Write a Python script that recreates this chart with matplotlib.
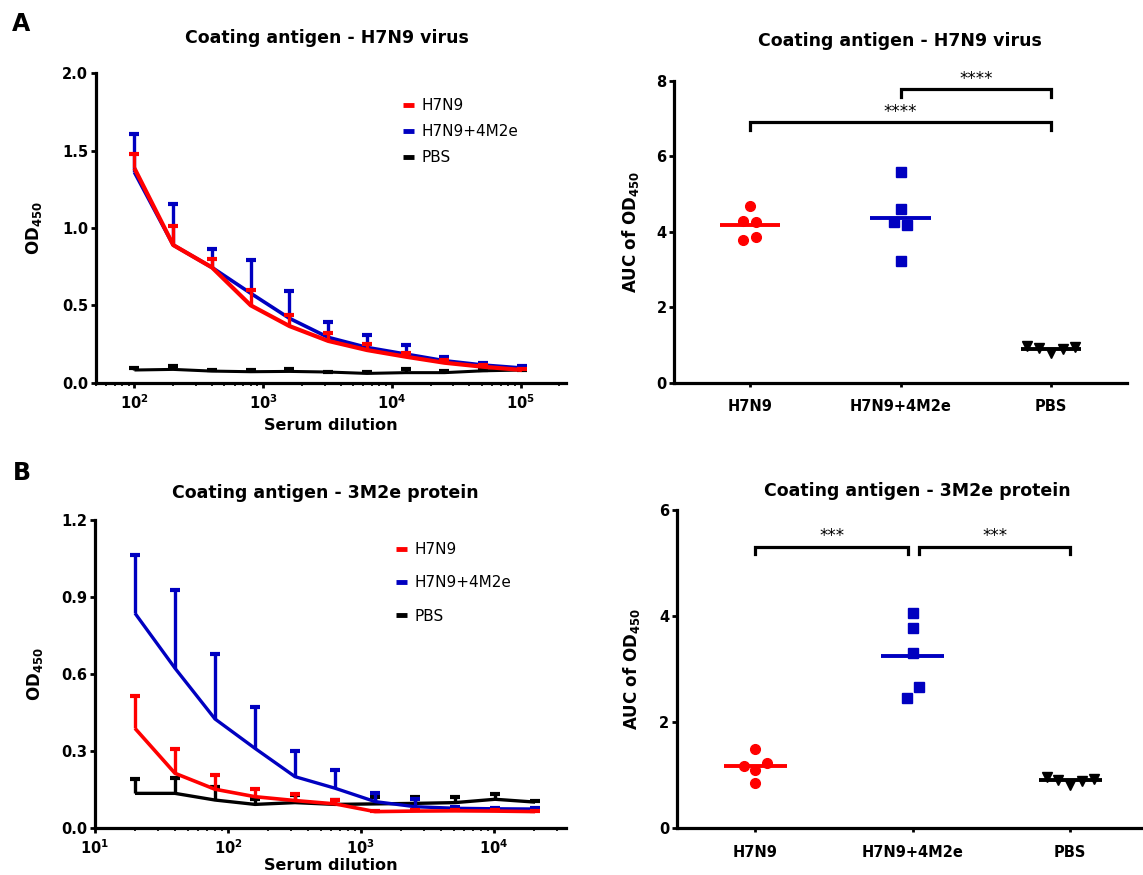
import numpy as np
import matplotlib
matplotlib.use("Agg")
import matplotlib.pyplot as plt
from matplotlib.lines import Line2D
from matplotlib.ticker import FixedLocator, FuncFormatter, LogLocator, NullFormatter

plt.rcParams['font.family'] = ['DejaVu Sans']
plt.rcParams['mathtext.fontset'] = 'dejavusans'

# ---------------- data ----------------
groups = ["H7N9", "H7N9+4M2e", "PBS"]
colors = ["#ff0000", "#0000c0", "#000000"]

# Panel A (left): coating antigen H7N9 virus
dil_virus = [100, 200, 400, 800, 1600, 3200, 6400, 12800, 25600, 51200, 102400]
a_h7n9_mean = [1.386, 0.89, 0.745, 0.50, 0.366, 0.27, 0.211, 0.168, 0.129, 0.103, 0.082]
a_h7n9_upper = [1.48, 1.01, 0.80, 0.60, 0.4375, 0.319, 0.25, 0.19, 0.146, 0.114, 0.09]
a_m2e_mean = [1.36, 0.89, 0.745, 0.578, 0.416, 0.293, 0.228, 0.185, 0.142, 0.114, 0.095]
a_m2e_upper = [1.61, 1.155, 0.864, 0.79, 0.593, 0.39, 0.308, 0.243, 0.168, 0.125, 0.11]
a_pbs_mean = [0.082, 0.086, 0.075, 0.071, 0.073, 0.069, 0.060, 0.065, 0.065, 0.077, 0.082]
a_pbs_upper = [0.092, 0.107, 0.082, 0.080, 0.088, 0.072, 0.071, 0.088, 0.077, 0.080, 0.085]

# Panel A (right): AUC values
auc_a_h7n9 = [4.68, 4.29, 4.27, 3.78, 3.87]
auc_a_m2e = [5.57, 4.59, 4.27, 4.18, 3.22]
auc_a_pbs = [0.98, 0.91, 0.79, 0.89, 0.95]

# Panel B (left): coating antigen 3M2e protein
dil_prot = [20, 40, 80, 160, 320, 640, 1280, 2560, 5120, 10240, 20480]
b_h7n9_mean = [0.389, 0.214, 0.152, 0.123, 0.108, 0.095, 0.065, 0.067, 0.068, 0.067, 0.065]
b_h7n9_upper = [0.516, 0.307, 0.2076, 0.152, 0.134, 0.11, 0.068, 0.070, 0.071, 0.070, 0.068]
b_m2e_mean = [0.837, 0.623, 0.4255, 0.311, 0.201, 0.156, 0.104, 0.084, 0.078, 0.076, 0.075]
b_m2e_upper = [1.064, 0.928, 0.677, 0.4735, 0.301, 0.227, 0.139, 0.113, 0.082, 0.079, 0.078]
b_pbs_mean = [0.136, 0.136, 0.110, 0.093, 0.100, 0.093, 0.095, 0.097, 0.100, 0.113, 0.102]
b_pbs_upper = [0.193, 0.196, 0.160, 0.113, 0.130, 0.110, 0.123, 0.123, 0.123, 0.133, 0.106]

# Panel B (right): AUC values
auc_b_h7n9 = [1.49, 1.18, 1.23, 1.10, 0.86]
auc_b_m2e = [4.06, 3.775, 3.30, 2.67, 2.46]
auc_b_pbs = [0.97, 0.91, 0.82, 0.90, 0.93]

# horizontal scatter offsets of the dots (layout only)
jit_a = [[0, -0.044, 0.044, -0.044, 0.044],
         [0, 0, -0.044, 0.044, 0],
         [-0.16, -0.08, 0, 0.08, 0.16]]
jit_b = [[0, -0.075, 0.075, 0, 0],
         [0, 0, 0, 0.04, -0.035],
         [-0.15, -0.075, 0, 0.075, 0.15]]

# ---------------- figure ----------------
W, H = 1143, 875
fig = plt.figure(figsize=(W / 100, H / 100), dpi=100)


def rect(l, r, t, b):
    return [l / W, 1 - b / H, (r - l) / W, (b - t) / H]


def fx(x):
    return x / W


def fy(y):
    return 1 - y / H


ax_tl = fig.add_axes(rect(95.7, 566, 73.3, 382.7))
ax_tr = fig.add_axes(rect(674.3, 1126.7, 80.7, 382.7))
ax_bl = fig.add_axes(rect(95, 566, 520, 828.3))
ax_br = fig.add_axes(rect(676.8, 1141, 510, 828.3))

SPW = 2.3
TICKFS = 10.5


def style(ax):
    for s in ['top', 'right']:
        ax.spines[s].set_visible(False)
    for s in ['left', 'bottom']:
        ax.spines[s].set_linewidth(SPW)
    ax.tick_params(which='major', direction='out', length=3.5, width=2,
                   labelsize=TICKFS, pad=2)
    for lab in ax.get_yticklabels():
        lab.set_fontweight('bold')


def log_fmt(v, p):
    return r'$\mathbf{10^{%d}}$' % int(round(np.log10(v)))


def curve_panel(ax, x, series, xlim, ylim, yticks, legend_anchor, lspace):
    for mean, upper, col, lw in series:
        ax.plot(x, mean, color=col, lw=lw, solid_capstyle='butt', zorder=3)
        ax.vlines(x, mean, upper, color=col, lw=2.4, zorder=3)
        ax.plot(x, upper, ls='none', marker='_', ms=7.5, mew=3.0, color=col, zorder=3)
    ax.set_xscale('log')
    ax.set_xlim(*xlim)
    ax.set_ylim(*ylim)
    ax.yaxis.set_major_locator(FixedLocator(yticks))
    ax.yaxis.set_major_formatter(FuncFormatter(lambda v, p: '%.1f' % v))
    ax.xaxis.set_minor_locator(LogLocator(base=10, subs=range(2, 10), numticks=100))
    ax.xaxis.set_minor_formatter(NullFormatter())
    style(ax)
    ax.tick_params(axis='x', which='major', pad=4, length=3.5)
    ax.tick_params(axis='x', which='minor', direction='out', length=2.2, width=1.2)
    ax.set_xlabel('Serum dilution', fontsize=11.5, fontweight='bold')
    ax.set_ylabel(r'$\mathbf{OD_{450}}$', fontsize=12)
    handles = [Line2D([], [], color=c, lw=3.5, solid_capstyle='butt') for c in colors]
    ax.legend(handles, groups, loc='upper left', bbox_to_anchor=legend_anchor,
              bbox_transform=fig.transFigure, frameon=False, fontsize=11,
              handlelength=0.75, handletextpad=0.45, labelspacing=lspace,
              borderpad=0, borderaxespad=0)


def dot_panel(ax, vals, jit, ylim, yticks, xright, brackets):
    markers = ['o', 's', 'v']
    sizes = [7, 6.5, 7]
    for i, (v, j) in enumerate(zip(vals, jit)):
        xs = np.full(len(v), float(i)) + np.array(j)
        ax.plot(xs, v, ls='none', marker=markers[i], ms=sizes[i], color=colors[i],
                mec=colors[i], zorder=3)
        ax.hlines(np.mean(v), i - 0.2, i + 0.2, color=colors[i], lw=2.8, zorder=4)
    ax.set_xlim(-0.5, xright)
    ax.set_ylim(*ylim)
    ax.set_xticks(range(3))
    ax.set_xticklabels(groups, fontweight='bold', fontsize=11)
    ax.yaxis.set_major_locator(FixedLocator(yticks))
    ax.yaxis.set_major_formatter(FuncFormatter(lambda v, p: '%d' % v))
    style(ax)
    ax.tick_params(axis='x', which='major', length=3, pad=9)
    ax.set_ylabel(r'$\mathbf{AUC\ of\ OD_{450}}$', fontsize=12)
    for x0, x1, yb, drop, stars in brackets:
        ax.plot([x0, x0, x1, x1], [yb - drop, yb, yb, yb - drop], color='black',
                lw=2.3, solid_joinstyle='miter', zorder=3)
        ax.text((x0 + x1) / 2, yb + drop * 0.15, stars, ha='center', va='bottom',
                fontsize=12)


# Panel A left
curve_panel(ax_tl, dil_virus,
            [(a_pbs_mean, a_pbs_upper, colors[2], 2.2),
             (a_m2e_mean, a_m2e_upper, colors[1], 2.6),
             (a_h7n9_mean, a_h7n9_upper, colors[0], 3.0)],
            (50, 2.25e5), (0, 2.0), [0, 0.5, 1.0, 1.5, 2.0],
            (fx(403), fy(98)), 0.72)
ax_tl.xaxis.set_major_locator(FixedLocator([1e2, 1e3, 1e4, 1e5]))
ax_tl.xaxis.set_major_formatter(FuncFormatter(log_fmt))

# Panel B left
curve_panel(ax_bl, dil_prot,
            [(b_pbs_mean, b_pbs_upper, colors[2], 2.4),
             (b_m2e_mean, b_m2e_upper, colors[1], 2.4),
             (b_h7n9_mean, b_h7n9_upper, colors[0], 2.6)],
            (10, 3.5e4), (0, 1.2), [0, 0.3, 0.6, 0.9, 1.2],
            (fx(396), fy(542)), 1.2)
ax_bl.xaxis.set_major_locator(FixedLocator([1e1, 1e2, 1e3, 1e4]))
ax_bl.xaxis.set_major_formatter(FuncFormatter(log_fmt))

# Panel A right
dot_panel(ax_tr, [auc_a_h7n9, auc_a_m2e, auc_a_pbs], jit_a, (0, 8), [0, 2, 4, 6, 8], 2.5,
          [(1.0, 2.0, 7.77, 0.2, '****'), (0.0, 2.0, 6.9, 0.2, '****')])

# Panel B right
dot_panel(ax_br, [auc_b_h7n9, auc_b_m2e, auc_b_pbs], jit_b, (0, 6), [0, 2, 4, 6], 2.45,
          [(0.0, 0.97, 5.31, 0.14, '***'), (1.04, 2.0, 5.31, 0.14, '***')])

# axis label positions
ax_tl.yaxis.set_label_coords(-0.11, 0.5)
ax_bl.yaxis.set_label_coords(-0.107, 0.5)
ax_tr.yaxis.set_label_coords(-0.074, 0.5)
ax_br.yaxis.set_label_coords(-0.075, 0.5)
ax_tl.xaxis.set_label_coords(0.5, -0.115)
ax_bl.xaxis.set_label_coords(0.5, -0.095)

# titles and panel letters
TFS = 12.5
fig.text(fx(327), fy(38), 'Coating antigen - H7N9 virus', ha='center', va='center',
         fontsize=TFS, fontweight='bold')
fig.text(fx(900), fy(41), 'Coating antigen - H7N9 virus', ha='center', va='center',
         fontsize=TFS, fontweight='bold')
fig.text(fx(325), fy(493), 'Coating antigen - 3M2e protein', ha='center', va='center',
         fontsize=TFS, fontweight='bold')
fig.text(fx(917), fy(491), 'Coating antigen - 3M2e protein', ha='center', va='center',
         fontsize=TFS, fontweight='bold')
fig.text(fx(21), fy(24), 'A', ha='center', va='center', fontsize=17, fontweight='bold')
fig.text(fx(22), fy(473), 'B', ha='center', va='center', fontsize=17, fontweight='bold')

fig.savefig('out.png', dpi=100, facecolor='white')
